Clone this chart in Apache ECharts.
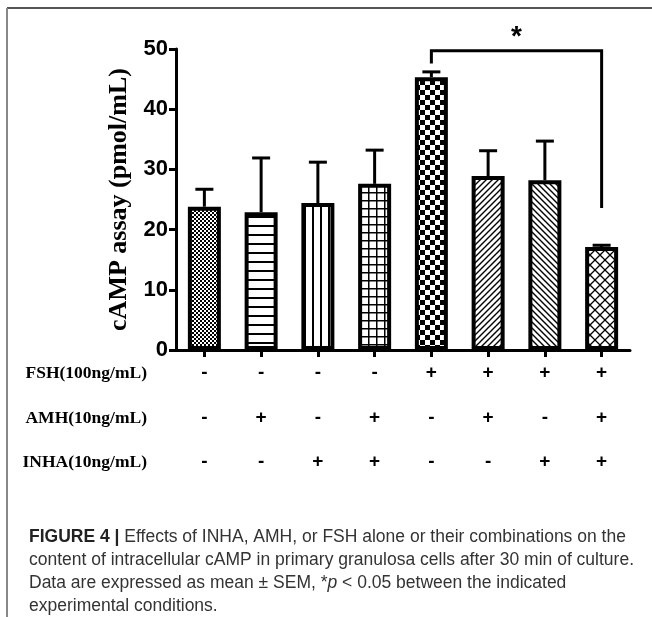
<!DOCTYPE html>
<html><head><meta charset="utf-8">
<script src="https://cdn.jsdelivr.net/npm/echarts@6/dist/echarts.min.js"></script>
<style>html,body{margin:0;padding:0;background:#fff}#c{width:652px;height:617px}</style>
</head><body><div id="c"></div>
<script>
// ---- data ----
const categories = ['G1','G2','G3','G4','G5','G6','G7','G8'];
const means = [23.8, 22.9, 24.4, 27.6, 45.3, 28.9, 28.2, 17.1];
const sem   = [2.9, 9.0, 6.8, 5.6, 0.9, 4.2, 6.5, 0.3];
const fshRow  = ['-','-','-','-','+','+','+','+'];
const amhRow  = ['-','+','-','+','-','+','-','+'];
const inhaRow = ['-','-','+','+','-','-','+','+'];
const rowNames = ['FSH(100ng/mL)','AMH(10ng/mL)','INHA(10ng/mL)'];
const yAxisName = 'cAMP assay (pmol/mL)';
const yMin = 0, yMax = 50, yInterval = 10;
const bracketFrom = 4, bracketTo = 7;
const bracketTop = 49.7, bracketLeftEnd = 47.6, bracketRightEnd = 23.6;
const bracketLabel = '*';
const captionLines = [
  '{b|FIGURE 4 |} Effects of INHA, AMH, or FSH alone or their combinations on the',
  'content of intracellular cAMP in primary granulosa cells after 30 min of culture.',
  'Data are expressed as mean ± SEM, *{i|p} < 0.05 between the indicated',
  'experimental conditions.'
];

// ---- patterns ----
function mk(w, h, draw) {
  const c = document.createElement('canvas'); c.width = w; c.height = h;
  const g = c.getContext('2d'); g.fillStyle = '#fff'; g.fillRect(0,0,w,h);
  g.fillStyle = '#000'; g.strokeStyle = '#000'; draw(g, w, h);
  return { image: c, repeat: 'repeat' };
}
const patterns = [
  mk(4,4,(g)=>{ g.fillRect(0,0,2,2); g.fillRect(2,2,2,2); }),
  mk(8,9,(g)=>{ g.fillRect(0,0,8,2); }),
  mk(8,8,(g)=>{ g.fillRect(0,0,2,8); }),
  mk(8,8,(g)=>{ g.fillRect(0,0,8,1.5); g.fillRect(0,0,1.5,8); }),
  mk(10,10,(g)=>{ g.fillRect(0,0,5,5); g.fillRect(5,5,5,5); }),
  mk(6,6,(g)=>{ g.lineWidth=1.4; g.beginPath(); g.moveTo(-1,7); g.lineTo(7,-1); g.moveTo(-4,4); g.lineTo(4,-4); g.moveTo(2,10); g.lineTo(10,2); g.stroke(); }),
  mk(6,6,(g)=>{ g.lineWidth=1.4; g.beginPath(); g.moveTo(-1,-1); g.lineTo(7,7); g.moveTo(-4,2); g.lineTo(4,10); g.moveTo(2,-4); g.lineTo(10,4); g.stroke(); }),
  mk(10,10,(g)=>{ g.lineWidth=1.3; g.beginPath();
    g.moveTo(0,5); g.lineTo(5,0); g.moveTo(5,10); g.lineTo(10,5);
    g.moveTo(5,0); g.lineTo(10,5); g.moveTo(0,5); g.lineTo(5,10);
    g.stroke(); })
];

const chart = echarts.init(document.getElementById('c'), null, {renderer:'canvas'});
function rowAxis(data, name, offset) {
  return {
    type: 'category', data: data, gridIndex: 0, position: 'bottom', offset: offset,
    axisLine: {show:false}, axisTick: {show:false}, splitLine:{show:false},
    axisLabel: {show:true, margin:0, verticalAlign:'middle', color:'#000',
      fontFamily:'Liberation Sans', fontWeight:'bold', fontSize:19},
    name: name, nameLocation: 'start', nameGap: 29,
    nameTextStyle: {fontFamily:'Liberation Serif', fontWeight:'bold', fontSize:17.5, color:'#000',
      align:'right', verticalAlign:'middle'}
  };
}
const option = {
  animation: false,
  backgroundColor: '#fff',
  grid: {left:176, right:22, top:49, bottom:267, outerBoundsMode:'none', containLabel:false},
  xAxis: [
    { type:'category', data: categories, gridIndex:0, position:'bottom',
      axisLine:{show:true, lineStyle:{color:'#000', width:3}},
      axisTick:{show:true, alignWithLabel:true, length:7, lineStyle:{color:'#000', width:3}},
      axisLabel:{show:false}, splitLine:{show:false} },
    rowAxis(fshRow, rowNames[0], 23),
    rowAxis(amhRow, rowNames[1], 68),
    rowAxis(inhaRow, rowNames[2], 112)
  ],
  yAxis: {
    type:'value', min:yMin, max:yMax, interval:yInterval,
    axisLine:{show:true, lineStyle:{color:'#000', width:3}},
    axisTick:{show:true, length:7, lineStyle:{color:'#000', width:3}},
    splitLine:{show:false},
    axisLabel:{color:'#000', fontFamily:'Liberation Sans', fontWeight:'bold', fontSize:22, margin:8},
    name: yAxisName, nameLocation:'middle', nameGap:43, nameRotate:90,
    nameTextStyle:{fontFamily:'Liberation Serif', fontWeight:'bold', fontSize:26, color:'#000'}
  },
  series: [
    { type:'custom', z:1, clip:false,
      data: means.map((m,i)=>[i, m, m+sem[i]]),
      renderItem: function(params, api){
        const i = api.value(0);
        const p0 = api.coord([i, api.value(1)]);
        const p1 = api.coord([i, api.value(2)]);
        const hw = 9;
        return { type:'group', children:[
          {type:'line', shape:{x1:p0[0], y1:p0[1], x2:p1[0], y2:p1[1]}, style:{stroke:'#000', lineWidth:3}},
          {type:'line', shape:{x1:p1[0]-hw, y1:p1[1], x2:p1[0]+hw, y2:p1[1]}, style:{stroke:'#000', lineWidth:3}}
        ]};
      }
    },
    { type:'bar', z:2, barWidth:33,
      data: means.map((m,i)=>({value:m, itemStyle:{color:patterns[i], borderColor:'#000', borderWidth:4}})),
    },
    { type:'custom', z:3, clip:false,
      data: [[bracketFrom, bracketTo, bracketTop, bracketLeftEnd, bracketRightEnd]],
      renderItem: function(params, api){
        const a = api.coord([api.value(0), api.value(3)]);
        const b = api.coord([api.value(0), api.value(2)]);
        const c = api.coord([api.value(1), api.value(2)]);
        const d = api.coord([api.value(1), api.value(4)]);
        return { type:'group', children:[
          {type:'polyline', shape:{points:[a,b,c,d]}, style:{stroke:'#000', lineWidth:3, fill:null}},
          {type:'text', x:(b[0]+c[0])/2, y:b[1]-14, style:{text:bracketLabel, font:'bold 28px "Liberation Sans"', fill:'#000', align:'center', verticalAlign:'middle'}}
        ]};
      }
    }
  ],
  graphic: [
    {type:'line', shape:{x1:7, y1:8, x2:652, y2:8}, style:{stroke:'#555', lineWidth:2}},
    {type:'line', shape:{x1:7, y1:8, x2:7, y2:617}, style:{stroke:'#888', lineWidth:2}},
    {type:'text', left:29, top:526, style:{
      text: captionLines.join('\n'),
      font: '17.5px "Liberation Sans"', fill:'#333', lineHeight:23,
      rich: {
        b:{fontWeight:'bold', fontSize:17.5, fontFamily:'Liberation Sans', fill:'#222', lineHeight:23},
        i:{fontStyle:'italic', fontSize:17.5, fontFamily:'Liberation Sans', fill:'#333', lineHeight:23}
      }
    }}
  ]
};
chart.setOption(option);
</script>
</body></html>
